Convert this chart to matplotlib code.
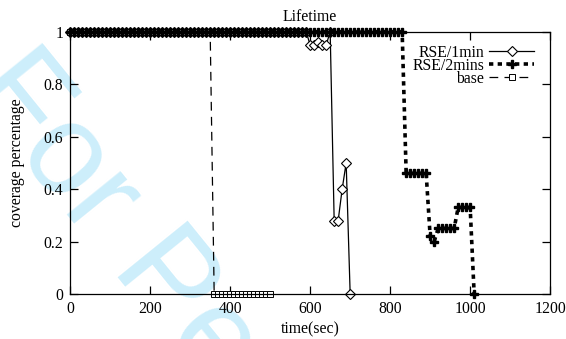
import matplotlib
matplotlib.use("Agg")
import matplotlib.pyplot as plt

# time axis (sec) and coverage values
t_1min = list(range(0, 710, 10))
cov_1min = [1.0] * 60 + [0.95, 0.95, 0.96, 0.95, 0.95, 1.0,
                         0.28, 0.28, 0.40, 0.50, 0.0]

t_2min = list(range(0, 1020, 10))
cov_2min = ([1.0] * 84 + [0.46] * 6 + [0.22, 0.20] + [0.25] * 5
            + [0.33] * 4 + [0.0])

t_base = list(range(0, 510, 10))
cov_base = [1.0] * 36 + [0.0] * 15

xticks = [0, 200, 400, 600, 800, 1000, 1200]
yticks = [0, 0.2, 0.4, 0.6, 0.8, 1]
ytick_labels = ["0", "0.2", "0.4", "0.6", "0.8", "1"]

plt.rcParams["font.family"] = ["Liberation Serif", "DejaVu Serif"]
fs = 11.3

fig = plt.figure(figsize=(5.66, 3.39), dpi=100)
ax = fig.add_axes([0.124, 0.133, 0.848, 0.773])
ax.set_facecolor("none")

# watermark behind the plot
fig.text(-0.060, 0.734, "For Peer Review", rotation=-51,
         rotation_mode="anchor", ha="left", va="baseline",
         fontsize=93, color="#cdeefb", family="Liberation Sans",
         zorder=-10)

ax.plot(t_1min, cov_1min, color="black", lw=0.9, marker="D",
        ms=5.5, mfc="white", mec="black", mew=0.8,
        label="RSE/1min", clip_on=False, zorder=2.2)
ax.plot(t_2min, cov_2min, color="black", lw=2.6, dashes=(1.2, 1.2),
        marker="P", ms=5.5, mfc="black", mec="black",
        label="RSE/2mins", clip_on=False, zorder=2.3)
ax.plot(t_base, cov_base, color="black", lw=0.9, dashes=(7, 5),
        marker="s", ms=4, mfc="white", mec="black", mew=0.7,
        label="base", clip_on=False, zorder=2.1)

ax.set_xlim(0, 1200)
ax.set_ylim(0, 1)
ax.set_xticks(xticks)
ax.set_xticklabels([str(v) for v in xticks])
ax.set_yticks(yticks)
ax.set_yticklabels(ytick_labels)
ax.tick_params(direction="in", length=6, width=0.9, top=True,
               right=True, labelsize=fs, pad=5)
for s in ax.spines.values():
    s.set_linewidth(0.9)

ax.set_title("Lifetime", fontsize=fs, pad=8)
ax.set_xlabel("time(sec)", fontsize=fs, labelpad=3)
ax.set_ylabel("coverage percentage", fontsize=fs, labelpad=13)

ax.legend(loc="upper right", bbox_to_anchor=(0.967, 0.95),
          frameon=False, markerfirst=False, fontsize=fs,
          handlelength=2.9, handletextpad=0.3, labelspacing=-0.2,
          borderpad=0, borderaxespad=0)

fig.savefig("out.png", dpi=100)
